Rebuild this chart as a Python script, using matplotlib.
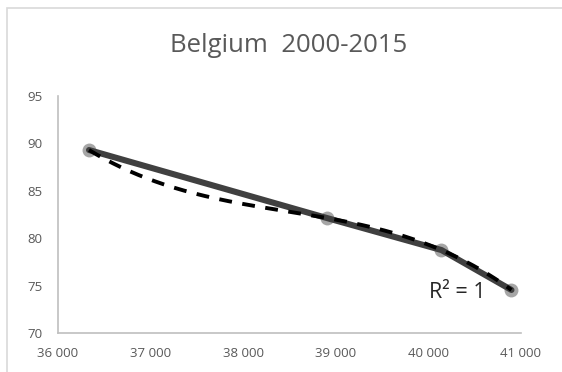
import numpy as np
import matplotlib
matplotlib.use("Agg")
import matplotlib.pyplot as plt
from matplotlib.patches import Rectangle

# Data (Belgium 2000-2015)
gdp = [36335, 38903, 40141, 40897]
values = [89.3, 82.13, 78.75, 74.54]
x_ticks = [36000, 37000, 38000, 39000, 40000, 41000]
y_ticks = [70, 75, 80, 85, 90, 95]
title = "Belgium  2000-2015"
r2_label = "R² = 1"

plt.rcParams['font.family'] = ['Open Sans', 'DejaVu Sans']

W, H = 562, 372
fig = plt.figure(figsize=(W / 100, H / 100), dpi=100)
fig.patch.set_facecolor('white')

# outer chart border (cropped at right/bottom)
fig.patches.append(Rectangle((7 / W, -0.1), 2.0, 1 - 8 / H + 0.1,
                             transform=fig.transFigure, fill=False,
                             edgecolor='#D9D9D9', linewidth=1.2))

ax = fig.add_axes([58 / W, 1 - 333 / H, (521 - 58) / W, (333 - 96) / H])
ax.set_xlim(36000, 41000)
ax.set_ylim(70, 95)

# polynomial (cubic) trend line, R² = 1
coef = np.polyfit(gdp, values, 3)
xs = np.linspace(min(gdp), max(gdp), 300)
ax.plot(xs, np.polyval(coef, xs), color='black', linewidth=2.8,
        linestyle=(0, (3.3, 2.7)), zorder=4)

ax.plot(gdp, values, color='#404040', linewidth=4.4, zorder=3,
        solid_capstyle='round')
ax.scatter(gdp, values, s=100, color='#A6A6A6', zorder=2, linewidths=0)

ax.set_xticks(x_ticks)
ax.set_xticklabels([f"{v:,}".replace(",", " ") for v in x_ticks])
ax.set_yticks(y_ticks)
ax.set_yticklabels([str(v) for v in y_ticks])
ax.tick_params(axis='both', length=0, labelsize=9.5, colors='#595959')
ax.tick_params(axis='y', pad=11)
ax.tick_params(axis='x', pad=10)

for side in ['top', 'right']:
    ax.spines[side].set_visible(False)
for side in ['left', 'bottom']:
    ax.spines[side].set_color('#BFBFBF')
    ax.spines[side].set_linewidth(1.2)

fig.text(289 / W, 1 - 46 / H, title, ha='center', va='center',
         fontsize=18.5, color='#595959')
fig.text(457 / W, 1 - 292 / H, r2_label, ha='center', va='center',
         fontsize=15.5, color='#262626')

fig.savefig("out.png", dpi=100, facecolor='white')
